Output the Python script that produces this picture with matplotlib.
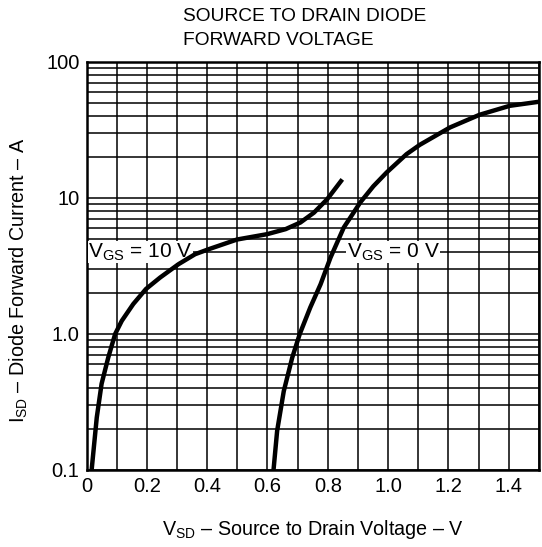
import matplotlib
matplotlib.use("Agg")
from matplotlib import pyplot
from matplotlib.ticker import FixedLocator, LogLocator, NullFormatter

pyplot.rcParams['font.family'] = ['Liberation Sans', 'DejaVu Sans']
pyplot.rcParams['mathtext.fontset'] = 'custom'
pyplot.rcParams['mathtext.rm'] = 'Liberation Sans'

# data
vsd_10v = [0.017, 0.034, 0.05, 0.072, 0.095, 0.117, 0.155, 0.197, 0.244, 0.305, 0.36,
           0.405, 0.499, 0.599, 0.66, 0.709, 0.754, 0.798, 0.848]
isd_10v = [0.1, 0.243, 0.43, 0.67, 1.0, 1.25, 1.66, 2.14, 2.6, 3.26, 3.86,
           4.2, 4.95, 5.42, 5.9, 6.6, 7.8, 9.8, 13.7]
vsd_0v = [0.62, 0.632, 0.654, 0.682, 0.707, 0.742, 0.776, 0.809, 0.853, 0.908, 0.951,
          0.995, 1.061, 1.105, 1.205, 1.303, 1.403, 1.5]
isd_0v = [0.1, 0.194, 0.38, 0.67, 1.0, 1.57, 2.32, 3.65, 6.07, 9.3, 12.2,
          15.4, 21.0, 24.6, 33.0, 40.9, 47.6, 51.0]
x_ticks = [0, 0.2, 0.4, 0.6, 0.8, 1.0, 1.2, 1.4]
x_labels = ["0", "0.2", "0.4", "0.6", "0.8", "1.0", "1.2", "1.4"]
y_ticks = [0.1, 1, 10, 100]
y_labels = ["0.1", "1.0", "10", "100"]

figure = pyplot.figure(figsize=(5.42, 5.47), dpi=100)
axis = figure.add_axes([0.1596, 0.1408, 0.8348, 0.7459])

for x, y in ((vsd_10v, isd_10v), (vsd_0v, isd_0v)):
    axis.plot(x, y, color='black', linewidth=3.2, solid_capstyle='butt',
              solid_joinstyle='round', zorder=4)

axis.set_yscale('log')
axis.set_xlim(0, 1.5)
axis.set_ylim(0.1, 100)
axis.set_xticks(x_ticks)
axis.set_xticklabels(x_labels)
axis.set_yticks(y_ticks)
axis.set_yticklabels(y_labels)
axis.xaxis.set_minor_locator(FixedLocator([i / 10 for i in range(16)]))
axis.yaxis.set_minor_locator(LogLocator(base=10, subs=range(2, 10)))
axis.yaxis.set_minor_formatter(NullFormatter())
axis.tick_params(which='both', length=0, labelsize=14.5, pad=5)
axis.grid(which='both', axis='both', color='black', linewidth=1.1)
axis.set_axisbelow(True)
for spine in axis.spines.values():
    spine.set_linewidth(1.8)

box = dict(facecolor='white', edgecolor='none', pad=0.3)
axis.text(0.006, 4, r"V$_{\rm GS}$ = 10 V", fontsize=15, va='center', ha='left',
          zorder=3, bbox=box)
axis.text(0.862, 4, r"V$_{\rm GS}$ = 0 V", fontsize=15, va='center', ha='left',
          zorder=3, bbox=box)

axis.set_xlabel(r"V$_{\rm SD}$ – Source to Drain Voltage – V", fontsize=14.2, labelpad=16)
axis.set_ylabel(r"I$_{\rm SD}$ – Diode Forward Current – A", fontsize=14.2)
axis.yaxis.set_label_coords(-0.125, 0.466)
figure.text(0.3376, 0.985, "SOURCE TO DRAIN DIODE\nFORWARD VOLTAGE", fontsize=13.8,
            ha='left', va='top', linespacing=1.5)

figure.savefig("out.png", dpi=100)
